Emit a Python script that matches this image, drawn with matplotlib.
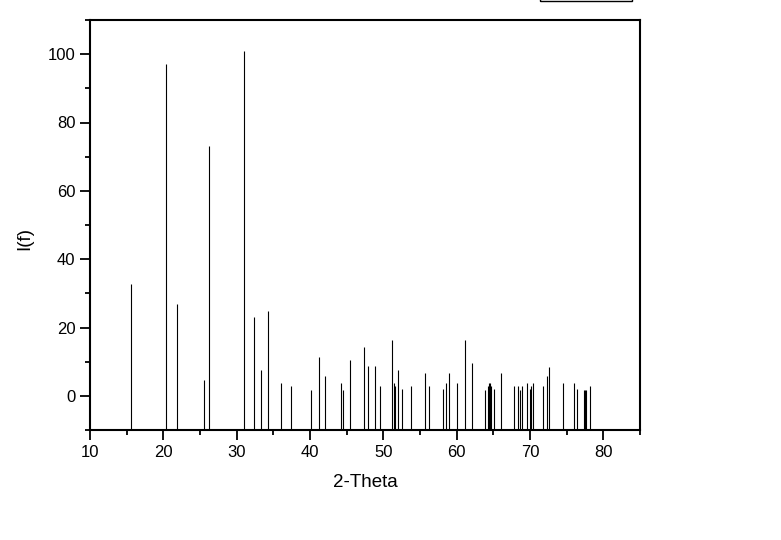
import numpy as np
import matplotlib
matplotlib.use('Agg')
import matplotlib.pyplot as plt
from matplotlib.patches import Rectangle
from matplotlib.ticker import MultipleLocator

plt.rcParams['font.family'] = ['Liberation Sans', 'DejaVu Sans']

# peak positions (2-theta) and intensities
two_theta = [15.55, 20.32, 21.82, 25.59, 26.18, 31.04, 32.41, 33.36, 34.32,
             36.09, 37.45, 40.18, 41.27, 42.09, 44.27, 44.55, 45.50, 47.41,
             47.95, 48.91, 49.59, 51.23, 51.50, 51.64, 52.05, 52.59, 53.82,
             55.73, 56.27, 58.18, 58.59, 59.00, 60.09, 61.18, 62.14, 63.90,
             64.32, 64.45, 64.60, 64.73, 65.14, 66.09, 67.86, 68.41, 68.68,
             68.95, 69.64, 70.05, 70.18, 70.45, 71.82, 72.36, 72.64, 74.55,
             76.05, 76.45, 77.35, 77.50, 77.65, 78.23]
intensity = [32.6, 97.1, 27.0, 4.7, 73.0, 100.9, 23.2, 7.6, 24.9,
             3.8, 2.9, 1.8, 11.4, 5.9, 3.8, 1.8, 10.6, 14.4,
             8.8, 8.8, 2.9, 16.4, 3.8, 2.9, 7.6, 2.1, 2.9,
             6.7, 2.9, 2.1, 3.8, 6.7, 3.8, 16.4, 9.7, 1.8,
             2.9, 3.8, 3.8, 2.9, 2.1, 6.7, 2.9, 2.9, 1.8,
             2.9, 3.8, 2.1, 2.9, 3.8, 2.9, 5.9, 8.5, 3.8,
             3.8, 2.1, 1.8, 1.8, 1.8, 2.9]

fig = plt.figure(figsize=(7.81, 5.4), dpi=100)
ax = fig.add_axes([90/781, 110/540, 550/781, 410/540])

ax.vlines(two_theta, -10, intensity, color='black', linewidth=0.8)

ax.set_xlim(10, 85)
ax.set_ylim(-10, 110)
ax.xaxis.set_major_locator(MultipleLocator(10))
ax.xaxis.set_minor_locator(MultipleLocator(5))
ax.yaxis.set_major_locator(MultipleLocator(20))
ax.yaxis.set_minor_locator(MultipleLocator(10))
ax.set_yticks([0, 20, 40, 60, 80, 100])
ax.tick_params(which='major', direction='out', length=7, width=1.3, labelsize=12)
ax.tick_params(which='minor', direction='out', length=3.5, width=1.3)
for s in ax.spines.values():
    s.set_linewidth(1.5)

ax.set_xlabel('2-Theta', fontsize=13.5, labelpad=10.5)
ax.set_ylabel('I(f)', fontsize=13.5)
ax.yaxis.set_label_coords(-0.104, 0.468)

# empty legend frame cut off at the top edge
fig.add_artist(Rectangle((540/781, 539/540), 92/781, 10/540,
                         transform=fig.transFigure, fill=False,
                         edgecolor='black', linewidth=1.0, clip_on=False))

plt.savefig('out.png', dpi=100)
